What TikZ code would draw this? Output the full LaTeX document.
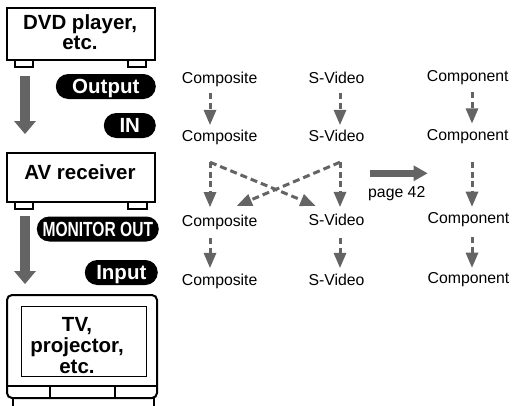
\documentclass[tikz,border=0pt]{standalone}
\usepackage{fontspec}
\setmainfont{Liberation Sans}
\usetikzlibrary{arrows.meta,calc}
\definecolor{agray}{RGB}{100,100,100}
\begin{document}
\begin{tikzpicture}[x=1pt,y=-1pt,
 lbl/.style={font=\fontsize{15.8}{18}\selectfont, inner sep=0pt, anchor=base west, text height=11.5pt, text depth=3.5pt},
 darr/.style={draw=agray, line width=3pt, dash pattern=on 6pt off 3.5pt, -{Triangle[length=15pt,width=13pt,line width=0pt]}},
 blk/.style={draw=agray, line width=10pt, -{Triangle[length=13pt,width=22pt,line width=0pt]}},
 parr/.style={draw=agray, line width=7pt, -{Triangle[length=14pt,width=16pt,line width=0pt]}},
 pill/.style={fill=black, text=white, font=\bfseries\fontsize{20.5}{22}\selectfont, rounded corners=12.5pt, minimum height=25pt, inner sep=0pt, anchor=east, text height=14.7pt, text depth=0pt},
 devbox/.style={draw=black, line width=2pt, fill=white, inner sep=0pt},
 devtxt/.style={align=center, inner sep=0pt, font=\bfseries\fontsize{20.5}{19.5}\selectfont},
 foot/.style={draw=black, line width=1.5pt, fill=white},
 thin/.style={draw=black, line width=1.5pt}
]
\useasboundingbox (0,0) rectangle (512,405);

% DVD player
\draw[foot] (15,58) rectangle (33,67);
\draw[foot] (128,58) rectangle (146,67);
\node[devbox, minimum width=148pt, minimum height=52pt] (dvd) at (81,34) {};
\node[devtxt] (dvdt) at (80,32.3) {DVD player,\\etc.};

% AV receiver
\draw[foot] (15,200) rectangle (33,209);
\draw[foot] (128,200) rectangle (147,209);
\node[devbox, minimum width=148pt, minimum height=49pt] (av) at (81,177.5) {};
\node[devtxt] (avt) at (80,172) {AV receiver};

% TV
\draw[thin] (13,396) -- (13,406);
\draw[thin] (154,396) -- (154,406);
\node[devbox, rounded corners=5pt, minimum width=150pt, minimum height=103pt] (tv) at (82,346.5) {};
\node[draw=black, line width=1.5pt, inner sep=0pt, minimum width=125pt, minimum height=70pt] (scr) at (84.2,341.7) {};
\draw[thin] (tv.west |- 0,386) -- (tv.east |- 0,386);
\draw[thin] (50,386) -- (50,398);
\draw[thin] (115,386) -- (115,398);
\node[devtxt, font=\bfseries\fontsize{20.5}{21}\selectfont] (tvt) at (77,345.2) {TV,\\projector,\\etc.};

% pills
\node[pill, minimum width=100pt] (out) at (156,86.5) {Output};
\node[pill, minimum width=52pt] (in) at (156,125.5) {IN};
\node[pill, minimum width=122pt] (mon) at (159,229) {\scalebox{0.76}[1]{MONITOR OUT}};
\node[pill, minimum width=73pt] (inp) at (158,272.5) {Input};

% block arrows
\draw[blk] ($(dvd.south west)+(19,15)$) -- ($(av.north west)+(19,-18)$);
\draw[blk] ($(av.south west)+(19,13)$) -- ($(tv.north west)+(19,-10)$);

% labels
\node[lbl] (r1a) at (181.7,83) {Composite};
\node[lbl] (r1b) at (308.3,83) {S-Video};
\node[lbl] (r1c) at (426.7,81.7) {Component};
\node[lbl] (r2a) at (181.7,141.5) {Composite};
\node[lbl] (r2b) at (308.3,141.5) {S-Video};
\node[lbl] (r2c) at (426.7,140) {Component};
\node[lbl] (r3a) at (181.7,226.7) {Composite};
\node[lbl] (r3b) at (308.3,225) {S-Video};
\node[lbl] (r3c) at (427.5,223.3) {Component};
\node[lbl] (r4a) at (181.7,285) {Composite};
\node[lbl] (r4b) at (308.3,285) {S-Video};
\node[lbl] (r4c) at (427.5,283.3) {Component};
\node[lbl] (pg) at (368,197) {page 42};

\coordinate (xa) at (210,0);
\coordinate (xb) at (340,0);
\coordinate (xc) at (472,0);

% row 1 -> row 2
\draw[darr] ($(r1a.south -| xa)+(0,6.5)$) -- ($(r2a.north -| xa)+(0,-5)$);
\draw[darr] ($(r1b.south -| xb)+(0,6.5)$) -- ($(r2b.north -| xb)+(0,-5)$);
\draw[darr] ($(r1c.south -| xc)+(0,7)$) -- ($(r2c.north -| xc)+(0,-5)$);
% row 2 -> row 3
\draw[darr] ($(r2a.south -| xa)+(0,17)$) -- ($(r3a.north -| xa)+(0,-8)$);
\draw[darr] ($(r2b.south -| xb)+(0,17)$) -- ($(r3b.north -| xb)+(0,-6.5)$);
\draw[darr] ($(r2c.south -| xc)+(0,18.5)$) -- ($(r3c.north -| xc)+(0,-5)$);
\draw[darr, dash pattern=on 7pt off 4pt] ($(r2a.south -| xa)+(0,17)$) -- ($(r3b.north west)+(7,-7.5)$);
\draw[darr, dash pattern=on 7pt off 4pt] ($(r2b.south -| xb)+(0,17)$) -- ($(r3a.north west)+(55.3,-9.2)$);
% row 3 -> row 4
\draw[darr] ($(r3a.south -| xa)+(0,8)$) -- ($(r4a.north -| xa)+(0,-5.5)$);
\draw[darr] ($(r3b.south -| xb)+(0,9.5)$) -- ($(r4b.north -| xb)+(0,-5.5)$);
\draw[darr] ($(r3c.south -| xc)+(0,10)$) -- ($(r4c.north -| xc)+(0,-4)$);

% page 42 arrow
\draw[parr] ($(pg.north west)+(2,-12)$) -- ($(pg.north east)+(2,-12)$);
\end{tikzpicture}
\end{document}
